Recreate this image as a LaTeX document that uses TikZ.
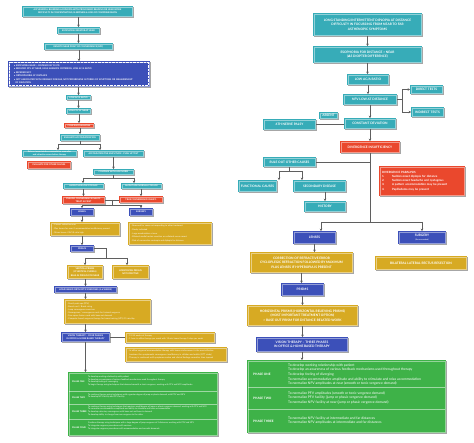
\documentclass[tikz,border=0pt]{standalone}
\usepackage{fontspec}
\setmainfont{Lato}
\newfontfamily\dvfont{DejaVu Sans}
\usetikzlibrary{arrows.meta,shadows}
\definecolor{tealc}{RGB}{55,172,184}
\definecolor{redc}{RGB}{234,72,45}
\definecolor{bluec}{RGB}{60,80,185}
\definecolor{yelc}{RGB}{215,170,35}
\definecolor{grnc}{RGB}{62,178,72}
\definecolor{linec}{RGB}{95,95,95}
\newcommand\flowbox[7]{%
  \pgfmathsetmacro\fbw{#5-#3}%
  \pgfmathsetmacro\fbh{#6-#4}%
  \pgfmathsetmacro\fbx{(#3+#5)/2}%
  \pgfmathsetmacro\fby{(#4+#6)/2}%
  \node[#1,minimum width=\fbw pt,minimum height=\fbh pt] (#2) at (\fbx,\fby) {#7};%
  \draw[inset] ([shift={(0.7,0.7)}]#2.north west) rectangle ([shift={(-0.7,-0.7)}]#2.south east);%
}
\newcommand\varr[2]{\draw[arr] (#1.south) -- (#1.south |- #2.north);}
\newcommand\varrb[2]{\draw[arr] (#1.south -| #2.north) -- (#2.north);}
\begin{document}
\begin{tikzpicture}[x=1pt,y=-1pt,
  box/.style={inner sep=0.4pt,outer sep=0pt,text=white,align=center,
    drop shadow={shadow xshift=0.7pt,shadow yshift=-0.7pt,opacity=0.35,fill=black}},
  tealbox/.style={box,fill=tealc},
  redbox/.style={box,fill=redc},
  bluebox/.style={box,fill=bluec},
  yelbox/.style={box,fill=yelc},
  grnbox/.style={box,fill=grnc},
  inset/.style={draw=white,draw opacity=0.45,line width=0.25pt},
  fL/.style={font=\bfseries\fontsize{2.2}{3.3}\selectfont},
  fLl/.style={font=\fontsize{2.1}{3.6}\selectfont},
  fR/.style={font=\bfseries\fontsize{3.2}{4.5}\selectfont},
  ln/.style={draw=linec,line width=0.6pt},
  arr/.style={ln,-{Stealth[length=2.4pt,width=2.6pt]}},
  sepl/.style={draw=white,draw opacity=0.5,line width=0.3pt},
  glabL/.style={text=white,anchor=west,inner sep=0pt,font=\bfseries\fontsize{2.2}{2.8}\selectfont},
  gtxtL/.style={text=white,anchor=west,inner sep=0pt,align=left,font=\fontsize{2.1}{2.7}\selectfont},
  glabR/.style={text=white,anchor=west,inner sep=0pt,font=\bfseries\fontsize{3.1}{4}\selectfont},
  gtxtR/.style={text=white,anchor=west,inner sep=0pt,align=left,font=\fontsize{3.4}{4.6}\selectfont},
]
\useasboundingbox[fill=white] (0,0) rectangle (474,443);

% ================= LEFT COLUMN =================
\flowbox{tealbox,fL}{L1}{22}{6}{133}{17}{ASTHENOPIA, BLURRING \& DIPLOPIA WITH PROLONGED READING OR NEAR WORK\\DIFFICULTY IN CONCENTRATING, SLEEPINESS \& LOSS OF COMPREHENSION}
\flowbox{tealbox,fL}{L2}{57}{27}{100}{34}{EXOPHORIA GREATER AT NEAR}
\flowbox{tealbox,fL}{L3}{44}{43}{113}{50}{REMOTE NEAR POINT OF CONVERGENCE (NPC)}
\flowbox{bluebox,font=\bfseries\fontsize{2.2}{3.5}\selectfont,align=left,text width=130pt}{L4}{8}{61}{150}{87}{%
\textbullet\ EXOPHORIA NEAR > DISTANCE BY 10 PD\\
\textbullet\ REDUCED PFV AT NEAR, FAILS SHEARD'S CRITERION, LOW AC/A RATIO\\
\textbullet\ RECEDED NPC\\
\textbullet\ ORTHOPHORIA AT DISTANCE\\
\textbullet\ NOT ASSOCIATED WITH ORGANIC DISEASE, NOT PROGRESSIVE IN TERMS OF SYMPTOMS OR MEASUREMENT\\
\ \ OF DEVIATION}
\draw[white,line width=0.3pt,dash pattern=on 0.8pt off 0.6pt] ([shift={(1.5,1.5)}]L4.north west) rectangle ([shift={(-1.5,-1.5)}]L4.south east);
\flowbox{tealbox,fL}{L5}{66}{95}{91}{100}{LOW AC/A RATIO}
\flowbox{tealbox,fL}{L6}{66}{108}{91}{114}{LOW PFV AT NEAR}
\flowbox{redbox,fL}{L7}{64}{123}{94}{128}{CONFIRM DIAGNOSIS}
\flowbox{tealbox,fL}{L8}{60}{134}{100}{141}{EVALUATE ACCOMMODATION}
\flowbox{tealbox,font=\bfseries\fontsize{2.1}{2.9}\selectfont}{L9}{22}{150}{77}{157}{Rule out associated accommodative anomalies\\and refractive errors before therapy}
\flowbox{redbox,fL}{L10}{27}{161}{71}{169}{EVALUATE FOR OTHER CAUSES}
\flowbox{tealbox,fL}{L11}{83}{150}{144}{157}{ACCOMMODATIVE AMPLITUDE - PUSH UP TEST}
\flowbox{tealbox,fL}{L12}{93}{169}{134}{175}{COMPARE WITH AGE NORM}
\flowbox{tealbox,fL}{L13}{63}{183}{104}{189}{AMPLITUDE LOW FOR AGE}
\flowbox{tealbox,fL}{L14}{121}{183}{162}{189}{AMPLITUDE NORMAL FOR AGE}
\flowbox{redbox,fL}{L15}{62}{196}{105}{204}{PSEUDO CONVERGENCE INSUFF.\\TREAT AI FIRST}
\flowbox{redbox,fL}{L16}{119}{196}{163}{203}{TRUE CONVERGENCE INSUFF.}
\flowbox{bluebox,fL}{L17}{70}{208}{94}{216}{LENSES}
\flowbox{bluebox,fL}{L18}{129}{208}{153}{216}{SURGERY}
\flowbox{yelbox,fLl,align=left,text width=64pt}{L19}{50}{222}{120}{236}{%
- Correct refractive error\\
- Plus lenses for near if accommodative insufficiency present\\
- Minus lenses if AC/A ratio high}
\flowbox{yelbox,fLl,align=left,text width=78pt}{L20}{128}{222}{212}{245}{%
- Reserved for cases not responding to other treatment\\
- Rarely indicated\\
- Large exodeviation at near\\
- Bilateral medial rectus resection or unilateral recess-resect\\
- Risk of consecutive esotropia and diplopia for distance}
\flowbox{bluebox,fL}{L21}{70}{245}{94}{252}{PRISMS}
\flowbox{yelbox,fL}{L22}{67}{265}{103}{279}{VERTICAL PRISMS\\(IF VERTICAL PHORIA)\\BASE-IN PRISMS FOR NEAR}
\flowbox{yelbox,fL}{L23}{112}{265}{149}{279}{HORIZONTAL PRISMS\\NOT EFFECTIVE}
\flowbox{bluebox,fL}{L24}{54}{286}{117}{293}{HOME BASED ORTHOPTIC EXERCISES (4-6 WEEKS)}
\flowbox{yelbox,font=\fontsize{2.1}{3.1}\selectfont,align=left,text width=81pt}{L25}{64}{299}{151}{324}{%
- Pencil push-ups (PPU)\\
- Barrel card / Brock string\\
- Jump convergence exercises\\
- Stereograms / convergence cards for fusional vergence\\
- Free space fusion cards with base-out demand\\
- Computer based vergence therapy for home training (HTS) 15 min/day}
\flowbox{bluebox,fL}{L26}{61}{332}{110}{342}{VISION THERAPY -- FOUR PHASES\\IN OFFICE \& HOME BASED THERAPY}
\flowbox{yelbox,fLl,align=left,text width=84pt}{L27}{125}{332}{215}{343}{%
- 12-24 weeks of therapy\\
- 1 hour in-office therapy per week with 15 min home therapy 5 days per week}
\flowbox{yelbox,font=\fontsize{2.1}{3.4}\selectfont,align=left,text width=96pt}{L28}{125}{347}{227}{362}{%
- In-office vergence/accommodative therapy with home reinforcement is the most effective\\
\ \ treatment for symptomatic convergence insufficiency in children and adults (CITT study)\\
- Therapy is continued until symptoms resolve and clinical findings normalize, then tapered}

% left green table
\flowbox{grnbox}{L29}{68}{372}{218}{436}{}
\draw[sepl] (69,391) -- (217,391) (69,404) -- (217,404) (69,419) -- (217,419);
\node[glabL] (L29a) at (72,381.5) {PHASE ONE};
\node[gtxtL] (L29b) at (88,381) {To develop working relationship with patient\\
To develop an awareness of various feedback mechanisms used throughout therapy\\
To develop feeling of converging\\
To begin therapy using techniques that demand smooth or tonic vergence, working with PFV and NFV amplitudes};
\node[glabL] (L29c) at (72,397.5) {PHASE TWO};
\node[gtxtL] (L29d) at (88,396) {To continue therapy using techniques with a greater degree of jump or phasic demand, with PFV and NFV\\
To develop NFV facility and PFV facility};
\node[glabL] (L29e) at (72,411.5) {PHASE THREE};
\node[gtxtL] (L29f) at (88,410.5) {To continue therapy using techniques that require a small degree of jump or phasic vergence demand, working with PFV and NFV\\
To normalize accommodative amplitude and ability to stimulate and relax accommodation\\
To develop voluntary convergence with base-out and base-in demand\\
To develop ability to change from one vergence to the other};
\node[glabL] (L29g) at (72,427.5) {PHASE FOUR};
\node[gtxtL] (L29h) at (88,426) {Continue therapy using techniques with a large degree of jump vergence at 3 distances, working with PFV and NFV\\
To integrate vergence procedures with versions\\
To integrate vergence procedures with accommodative and saccadic demands};

% left connectors
\varrb{L1}{L2}
\varrb{L2}{L3}
\varrb{L3}{L4}
\varrb{L4}{L5}
\varrb{L5}{L6}
\varrb{L6}{L7}
\varrb{L7}{L8}
\coordinate (s1a) at (58,144);
\coordinate (s1b) at (100,144);
\draw[ln] (L8.south) -- (L8.south |- s1a);
\draw[ln] (s1a) -- (s1b);
\draw[arr] (s1a) -- (s1a |- L9.north);
\draw[arr] (s1b) -- (s1b |- L11.north);
\varrb{L11}{L12}
\coordinate (s2a) at (83,178);
\coordinate (s2b) at (134,178);
\draw[ln] (L12.south) -- (L12.south |- s2a);
\draw[ln] (s2a) -- (s2b);
\draw[arr] (s2a) -- (s2a |- L13.north);
\draw[arr] (s2b) -- (s2b |- L14.north);
\varrb{L13}{L15}
\varrb{L14}{L16}
\coordinate (j3) at (112,205);
\coordinate (s3a) at (82,205);
\coordinate (s3b) at (141,205);
\draw[ln] (L15.east) -- (L15.east -| L16.west);
\draw[ln] (L15.east -| j3) -- (j3);
\draw[ln] (s3a) -- (s3b);
\draw[arr] (s3a) -- (s3a |- L17.north);
\draw[arr] (s3b) -- (s3b |- L18.north);
\draw[arr] (L17.south) -- (L17.south |- L19.north);
\varrb{L19}{L21}
\coordinate (p1) at (106,248.5);
\coordinate (p2) at (106,258);
\coordinate (s4a) at (85,258);
\coordinate (s4b) at (127,258);
\draw[ln] (L21.east) -- (L21.east -| p1) -- (p2);
\draw[ln] (s4a) -- (s4b);
\draw[arr] (s4a) -- (s4a |- L22.north);
\draw[arr] (s4b) -- (s4b |- L23.north);
\varrb{L22}{L24}
\varr{L24}{L25}
\varrb{L25}{L26}
\varr{L26}{L29}
\draw[ln] (L26.east) -- (L26.east -| L27.west);

% ================= RIGHT COLUMN =================
\flowbox{tealbox,fR}{R1}{313}{13}{422}{36}{LONG STANDING/INTERMITTENT DIPLOPIA AT DISTANCE\\DIFFICULTY IN FOCUSSING FROM NEAR TO FAR\\ASTHENOPIC SYMPTOMS}
\flowbox{tealbox,fR}{R2}{313}{46}{422}{63}{ESOPHORIA FOR DISTANCE > NEAR\\({\dvfont\char"0394}5 DIOPTER DIFFERENCE)}
\flowbox{tealbox,fR}{R3}{347}{74}{389}{85}{LOW AC/A RATIO}
\flowbox{tealbox,fR}{R4}{343}{94}{397}{105}{NFV LOW AT DISTANCE}
\flowbox{tealbox,fR}{R5}{410}{85}{443}{94}{DIRECT TESTS}
\flowbox{tealbox,fR}{R6}{411}{107}{444}{117}{INDIRECT TESTS}
\flowbox{tealbox,fR}{R7}{344}{118}{396}{129}{CONSTANT DEVIATION}
\flowbox{tealbox,fR}{R8}{319}{112}{338}{119}{ABSENT}
\flowbox{tealbox,fR}{R9}{263}{119}{316}{130}{6TH NERVE PALSY}
\flowbox{redbox,fR}{R10}{340}{141}{400}{153}{DIVERGENCE INSUFFICIENCY}
\flowbox{redbox,font=\bfseries\fontsize{2.9}{4.1}\selectfont,align=left,text width=80pt}{R11}{379}{166}{465}{196}{%
DIVERGENCE PARALYSIS\\
\makebox[10pt][l]{1.}Sudden onset diplopia for distance\\
\makebox[10pt][l]{2.}Sudden onset headache and nystagmus\\
\makebox[10pt][l]{3.}A pattern accommodation may be present\\
\makebox[10pt][l]{4.}Papilledema may be present}
\flowbox{tealbox,fR}{R12}{263}{157}{316}{167}{RULE OUT OTHER CAUSES}
\flowbox{tealbox,fR}{R13}{238}{180}{277}{192}{FUNCTIONAL CAUSES}
\flowbox{tealbox,fR}{R14}{293}{180}{346}{192}{SECONDARY DISEASE}
\flowbox{tealbox,fR}{R15}{304}{201}{346}{212}{HISTORY}
\flowbox{bluebox,fR}{R16}{293}{231}{336}{244}{LENSES}
\flowbox{bluebox,fR}{R17}{398}{231}{446}{244}{SURGERY\\[-1pt]{\mdseries\fontsize{1.9}{2.2}\selectfont (Recommended)}}
\flowbox{yelbox,fR}{R18}{250}{252}{353}{273}{CORRECTION OF REFRACTIVE ERROR\\CYCLOPLEGIC REFRACTION FOLLOWED BY MAXIMUM\\PLUS LENSES IF HYPEROPIA IS PRESENT}
\flowbox{yelbox,fR}{R19}{375}{256}{467}{270}{BILATERAL LATERAL RECTUS RESECTION}
\flowbox{bluebox,fR}{R20}{281}{283}{324}{296}{PRISMS}
\flowbox{yelbox,fR}{R21}{247}{305}{358}{326}{HORIZONTAL PRISMS (HORIZONTAL RELIEVING PRISMS)\\(MOST IMPORTANT TREATMENT OPTION)\\> BASE OUT PRISM FOR DISTANCE-RELATED WORK}
\flowbox{bluebox,fR}{R22}{256}{337}{348}{352}{VISION THERAPY -- THREE PHASES\\IN OFFICE \& HOME BASED THERAPY}

% right green table
\flowbox{grnbox}{R23}{247}{360}{446}{433}{}
\draw[sepl] (248,387) -- (445,387) (248,409) -- (445,409);
\node[glabR] (R23a) at (253,374) {PHASE ONE};
\node[gtxtR] (R23b) at (288,374.5) {To develop working relationship with patient\\
To develop an awareness of various feedback mechanisms used throughout therapy\\
To develop feeling of diverging\\
To normalize accommodative amplitude and ability to stimulate and relax accommodation\\
To normalize NFV amplitudes at near (smooth or tonic vergence demand)};
\node[glabR] (R23c) at (253,398) {PHASE TWO};
\node[gtxtR] (R23d) at (288,397.7) {To normalize PFV amplitudes (smooth or tonic vergence demand)\\
To normalize PFV facility (jump or phasic vergence demand)\\
To normalize NFV facility at near (jump or phasic vergence demand)};
\node[glabR] (R23e) at (253,421) {PHASE THREE};
\node[gtxtR] (R23f) at (288,420.7) {To normalize NFV facility at intermediate and far distances\\
To normalize NFV amplitudes at intermediate and far distances};

% right connectors
\varr{R1}{R2}
\varr{R2}{R3}
\varr{R3}{R4}
\coordinate (q1) at (402,89.5);
\coordinate (q2) at (402,112);
\draw[ln] (R4.east) -- (R4.east -| q1);
\draw[ln] (q1) -- (q2);
\draw[arr] (q1) -- (q1 -| R5.west);
\draw[arr] (q2) -- (q2 -| R6.west);
\varr{R4}{R7}
\draw[ln] (R9.east) -- (R9.east -| R7.west);
\varr{R7}{R10}
\coordinate (t1) at (370,222);
\coordinate (t2) at (321,222);
\coordinate (t3) at (422,222);
\draw[ln] (R10.south) -- (R10.south |- t1);
\draw[ln] (R12.east) -- (R12.east -| R10.south);
\draw[ln] (t2) -- (t3);
\draw[arr] (t2) -- (t2 |- R16.north);
\draw[arr] (t3) -- (t3 |- R17.north);
\coordinate (u1) at (279,171);
\coordinate (u2) at (302,171);
\draw[ln] (R12.south) -- (R12.south |- u1);
\draw[ln] (u1) -- (u2);
\draw[arr] (u1) -- (u1 |- R13.north);
\draw[arr] (u2) -- (u2 |- R14.north);
\varrb{R14}{R15}
\varr{R16}{R18}
\varr{R18}{R20}
\varr{R20}{R21}
\varr{R21}{R22}
\varr{R22}{R23}
\end{tikzpicture}
\end{document}
